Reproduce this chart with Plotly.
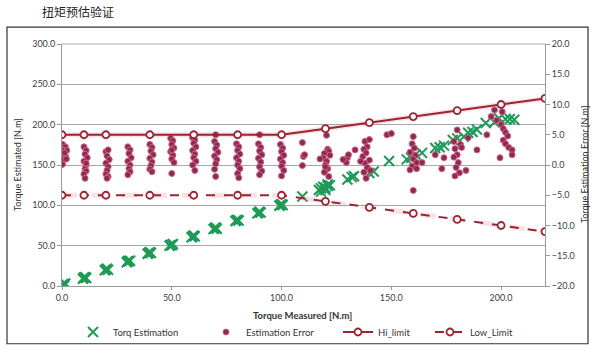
import plotly.graph_objects as go

# ---------------- data ----------------
torq_meas = [0, 0.5, 1, 1.5, 9.5, 10, 10.5, 11, 19.5, 20, 20.5, 21, 29.5, 30, 30.5, 31,
             39, 39.5, 40, 40.5, 49, 49.5, 50, 50.5, 59, 59.5, 60, 60.5, 69, 69.5, 70, 70.5,
             79, 79.5, 80, 80.5, 89, 89.5, 90, 90.5, 99, 99.5, 100, 100.5,
             109.5, 117, 118, 119, 120, 121, 122, 118, 120, 121, 130, 132, 133, 140, 142, 149,
             157, 159, 161, 164, 170, 172, 174, 178, 180, 183, 185, 187, 189,
             193, 197, 199, 202, 204, 206]
torq_est = [1, 2.5, 0.5, 3, 9, 10.5, 11, 10, 19.5, 20.5, 21.5, 20, 29.5, 31, 30.5, 31.5,
            40, 41, 42, 41, 50, 51, 50.5, 52, 60.5, 61.5, 62.5, 61.5, 70.5, 71.5, 72.5, 71,
            80.5, 81.5, 82, 81, 90, 91, 92, 91, 99.5, 100.5, 101.5, 100.5,
            111, 119, 121, 123, 122, 124, 125, 117, 119, 126, 132, 135, 136, 140, 142, 155,
            157, 159, 163, 165, 171, 172, 174, 181, 183, 185, 190, 191, 194,
            202, 203, 208, 207, 207, 206]

err_meas = [0.3, 1.5, 1.0, 2.2, 0.2, 1.6, 0.6, 0.2, 2.0, 1.2,
            10, 11, 10.5, 11.5, 10, 11, 10.5, 11, 10, 10.5, 11,
            20, 21, 20.5, 21.5, 20, 21, 20.5, 20, 21, 20.5,
            30, 31, 30.5, 31.5, 30, 31, 30.5, 31, 30,
            40, 41, 40.5, 41.5, 40, 41, 40.5, 40, 41,
            49.5, 50.5, 50, 51, 49.5, 50.5, 50, 51, 50, 50,
            59.5, 60.5, 60, 61, 59.5, 60.5, 60, 61, 59.5, 60.5,
            69.5, 70.5, 70, 71, 69.5, 70.5, 70, 69.5, 70, 70,
            79.5, 80.5, 80, 81, 79.5, 80.5, 80, 81, 80, 80.5,
            89.5, 90.5, 90, 91, 89.5, 90.5, 90, 91, 90, 90,
            99.5, 100.5, 100, 101, 99.5, 100.5, 100, 101, 100,
            109.5, 110, 109.5, 110.5,
            120.5, 121, 121.5, 119.5, 119, 117.5, 120.5, 120, 121, 119.5, 121.5, 120, 122,
            130, 130.5, 129.5, 128,
            133.5, 138, 140, 139, 137.5, 138.5, 137, 140, 138, 139, 137.5, 138.5, 140.5, 136,
            148, 150,
            160, 159.5, 160.5, 158.5, 161, 160, 161.5, 159.5, 161.5, 158.5, 160, 164,
            170, 173, 174,
            180, 178.5, 181.5, 179, 182, 180, 178.5, 180.5, 179.5, 181, 185, 184, 189, 179,
            197, 200.5, 195.5, 198, 200, 201, 202, 203, 201, 202, 199.5, 203.5, 205, 205, 193.5]
err_val = [3.4, 3.0, 2.4, 2.4, 1.8, 1.4, 0.8, 0.1, 1.0, 2.0,
           3.0, 2.4, 1.8, 1.2, 0.6, 0.0, -0.6, -1.0, -1.5, -2.2, 0.3,
           2.2, 2.5, 1.5, 0.9, 0.3, -0.3, -0.9, -1.5, -1.9, -2.2,
           3.0, 2.5, 1.9, 1.2, 0.6, 0.0, -0.6, -1.1, -1.6,
           3.4, 2.9, 2.3, 1.7, 1.1, 0.5, -0.1, -0.7, -1.1,
           4.4, 4.0, 3.4, 2.8, 2.2, 1.6, 1.0, 0.4, 2.5, -1.4,
           4.5, 4.1, 3.6, 3.0, 2.4, 1.8, 1.2, 0.6, 0.0, -0.9,
           3.9, 3.3, 2.7, 2.1, 1.5, 0.9, 0.2, -0.7, -1.9, 5.0,
           3.5, 3.0, 2.4, 1.8, 1.2, 0.6, 0.0, -0.6, -1.4, -2.1,
           3.5, 2.9, 2.3, 1.7, 1.1, 0.5, -0.3, -1.0, -1.6, 5.0,
           3.4, 2.8, 2.2, 1.6, 1.0, 0.4, -0.2, -0.9, -1.8,
           3.7, 1.4, -0.1, 1.7,
           4.9, 2.6, 2.3, 1.9, 1.2, 1.0, 0.6, 0.0, -0.6, -1.2, -1.9, -0.3, 1.6,
           1.2, 1.7, 0.4, 0.9,
           2.5, 3.9, 4.2, 3.0, 2.6, 2.0, 1.4, 0.8, 0.3, -0.4, -1.2, -2.2, -0.9, 0.6,
           5.0, 5.2,
           4.7, 3.5, 2.8, 2.1, 1.6, 1.0, 0.4, -0.2, -0.6, -0.8, -4.2, 0.4,
           1.7, -0.6, 1.2,
           5.8, 3.9, 3.4, 2.7, 2.9, 1.7, 1.3, 0.4, -0.4, -1.3, 4.5, -0.9, 2.5, -1.8,
           9.1, 8.8, 8.0, 7.4, 6.7, 6.0, 5.4, 4.8, 4.1, 3.5, 1.2, 2.9, 2.5, 1.7, 5.0]

limit_x = [0, 10, 20, 40, 60, 80, 100, 120, 140, 160, 180, 200, 220]
hi_limit = [5, 5, 5, 5, 5, 5, 5, 6, 7, 8, 9, 10, 11]
low_limit = [-5, -5, -5, -5, -5, -5, -5, -6, -7, -8, -9, -10, -11]

x_ticks = [0, 50, 100, 150, 200]
y_ticks = [0, 50, 100, 150, 200, 250, 300]
y2_ticks = [-20, -15, -10, -5, 0, 5, 10, 15, 20]

# ---------------- styles ----------------
FONT = "Lato, 'Open Sans', sans-serif"
LIMIT_COL = "#9c2430"
GLOW = "rgba(232,120,140,0.22)"
ERR_COL = "#8a2a55"
GREEN = "#1f9a58"

# plot area in pixels (used to place things outside it)
PL, PR, PT, PB = 62, 545, 44, 287
PW, PH = PR - PL, PB - PT


def px(xpix):
    return (xpix - PL) / PW


def py(ypix):
    return (PB - ypix) / PH


fig = go.Figure()

# soft glow under limit lines
fig.add_trace(go.Scatter(x=limit_x, y=hi_limit, yaxis="y2", mode="lines",
                         line=dict(color=GLOW, width=5), showlegend=False, hoverinfo="skip"))
fig.add_trace(go.Scatter(x=limit_x, y=low_limit, yaxis="y2", mode="lines",
                         line=dict(color=GLOW, width=5, dash="dash"), showlegend=False,
                         hoverinfo="skip"))

fig.add_trace(go.Scatter(
    x=torq_meas, y=torq_est, mode="markers", name="Torq Estimation", legend="legend",
    marker=dict(symbol="x-thin-open", size=10, color=GREEN, line=dict(color=GREEN, width=2))))

fig.add_trace(go.Scatter(
    x=err_meas, y=err_val, yaxis="y2", mode="markers", name="Estimation Error",
    legend="legend2",
    marker=dict(symbol="circle", size=6, color=ERR_COL, line=dict(color="#d2607e", width=1))))

fig.add_trace(go.Scatter(
    x=limit_x, y=hi_limit, yaxis="y2", mode="lines+markers", name="Hi_limit",
    legend="legend3",
    line=dict(color=LIMIT_COL, width=2),
    marker=dict(symbol="circle", size=7, color="white", line=dict(color=LIMIT_COL, width=1.8))))

fig.add_trace(go.Scatter(
    x=limit_x, y=low_limit, yaxis="y2", mode="lines+markers", name="Low_Limit",
    legend="legend4",
    line=dict(color=LIMIT_COL, width=2, dash="dash"),
    marker=dict(symbol="circle", size=7, color="white", line=dict(color=LIMIT_COL, width=1.8))))

axis_font = dict(family=FONT, size=9, color="#404040")
leg_font = dict(family=FONT, size=9.5, color="#333333")


def leg(text_start):
    return dict(orientation="h", x=px(text_start - 42), xanchor="left", y=py(332),
                yanchor="middle", font=leg_font, bgcolor="rgba(0,0,0,0)", borderwidth=0)


fig.update_layout(
    width=600, height=357,
    margin=dict(l=PL, r=600 - PR, t=PT, b=357 - PB),
    paper_bgcolor="white", plot_bgcolor="white",
    font=dict(family=FONT, size=9, color="#333333"),
    showlegend=True,
    legend=leg(115), legend2=leg(248), legend3=leg(380), legend4=leg(472),
    xaxis=dict(range=[0, 220], tickvals=x_ticks, tickformat=".1f", showgrid=False,
               showline=True, linecolor="#9a9a9a", linewidth=1, ticks="outside",
               ticklen=3, tickcolor="#9a9a9a", tickfont=axis_font, zeroline=False),
    yaxis=dict(range=[0, 300], tickvals=y_ticks, tickformat=".1f", showgrid=True,
               gridcolor="#a8a8a8", gridwidth=1, showline=True, linecolor="#9a9a9a",
               ticks="outside", ticklen=4, tickcolor="#9a9a9a", tickfont=axis_font,
               zeroline=False),
    yaxis2=dict(range=[-20, 20], tickvals=y2_ticks, tickformat=".1f", overlaying="y",
                side="right", showgrid=False, showline=True, linecolor="#9a9a9a",
                ticks="outside", ticklen=4, tickcolor="#9a9a9a", tickfont=axis_font,
                zeroline=False),
    annotations=[
        dict(text="扭矩预估验证", x=px(40), y=py(11), xref="paper", yref="paper",
             xanchor="left", yanchor="middle", showarrow=False,
             font=dict(family="Noto Sans CJK SC", size=12, color="#222222")),
        dict(text="<b>Torque Measured [N.m]</b>", x=px(302), y=py(317), xref="paper",
             yref="paper", showarrow=False, xanchor="center", yanchor="middle",
             font=dict(family=FONT, size=9.5, color="#333333")),
        dict(text="Torque Estimated [N.m]", x=px(17), y=0.5, xref="paper", yref="paper",
             textangle=-90, showarrow=False, font=dict(family=FONT, size=9, color="#333333"),
             xanchor="center", yanchor="middle"),
        dict(text="Torque Estimation Error [N.m]", x=px(584), y=0.5, xref="paper",
             yref="paper", textangle=-90, showarrow=False,
             font=dict(family=FONT, size=9, color="#333333"),
             xanchor="center", yanchor="middle"),
    ],
    shapes=[
        dict(type="rect", xref="paper", yref="paper", x0=px(7), x1=px(588), y0=py(345),
             y1=py(27), line=dict(color="#333333", width=1.2), layer="below"),
        dict(type="line", xref="paper", yref="paper", x0=0, x1=1, y0=1, y1=1,
             line=dict(color="#a8a8a8", width=1)),
    ],
)

fig.write_html("out.html", config={"displayModeBar": False},
               post_script="document.body.style.margin='0px';")
